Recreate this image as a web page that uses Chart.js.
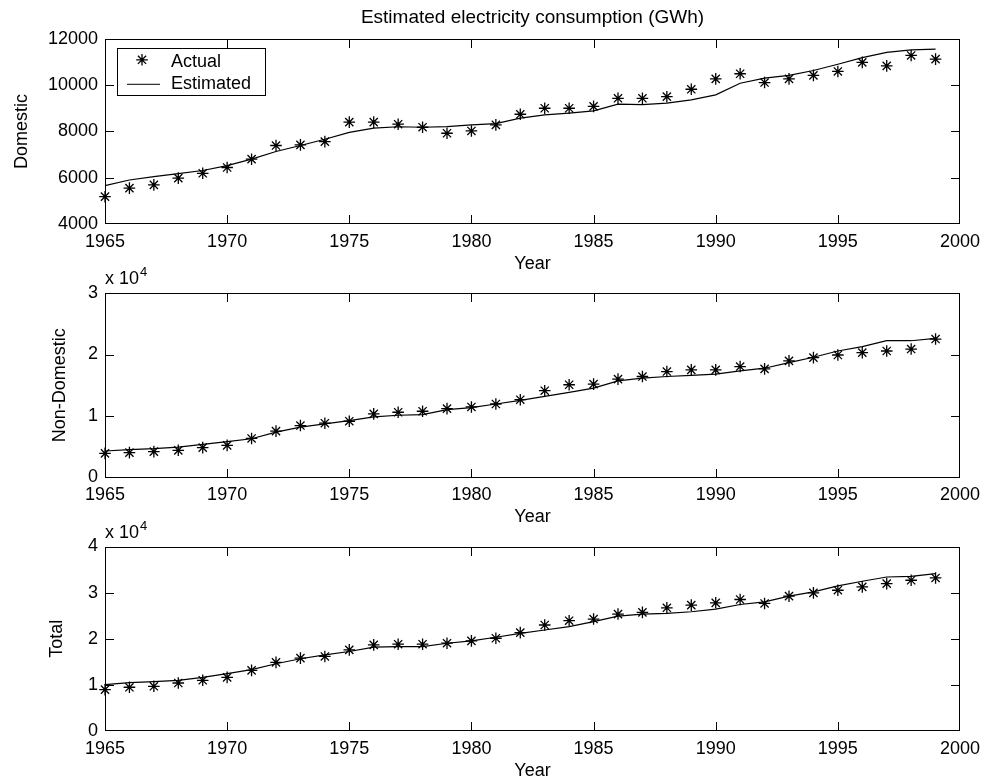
<!DOCTYPE html>
<html>
<head>
<meta charset="utf-8">
<script src="https://cdn.jsdelivr.net/npm/chart.js@4.4.1/dist/chart.umd.min.js"></script>
<style>
html,body{margin:0;padding:0;background:#fff;}
#wrap{position:relative;width:984px;height:779px;overflow:hidden;}
canvas{position:absolute;left:0;top:0;}
</style>
</head>
<body>
<div id="wrap">
<canvas id="c1" width="984" height="779"></canvas>
<canvas id="c2" width="984" height="779"></canvas>
<canvas id="c3" width="984" height="779"></canvas>
</div>
<script>
// ---------------- data ----------------
const years = [1965,1966,1967,1968,1969,1970,1971,1972,1973,1974,1975,1976,1977,1978,1979,1980,1981,1982,1983,1984,1985,1986,1987,1988,1989,1990,1991,1992,1993,1994,1995,1996,1997,1998,1999];

const domesticActual = [5180,5550,5690,5980,6190,6440,6800,7390,7420,7560,8400,8400,8310,8180,7920,8020,8280,8740,9000,9000,9080,9430,9430,9500,9820,10270,10490,10110,10270,10420,10590,10980,10830,11280,11120];
const domesticEstimated = [5660,5900,6050,6180,6310,6520,6800,7130,7390,7660,7960,8140,8200,8180,8210,8280,8340,8570,8710,8790,8890,9180,9160,9220,9360,9580,10080,10300,10420,10630,10900,11190,11410,11520,11550];

const nonDomesticActual = [3930,4040,4200,4420,4850,5220,6350,7540,8450,8830,9150,10340,10610,10770,11200,11470,11950,12650,14110,15080,15190,15990,16420,17230,17500,17500,18040,17660,18960,19490,19920,20300,20570,20890,22510];
const nonDomesticEstimated = [4310,4520,4690,4950,5390,5820,6300,7380,8190,8720,9260,9850,10120,10230,11040,11360,11950,12550,13190,13840,14540,15720,16150,16420,16590,16800,17340,17770,18690,19550,20570,21270,22240,22240,22620];

const totalActual = [8980,9480,9690,10410,10990,11630,13140,14870,15800,16160,17590,18670,18820,18820,19030,19530,20110,21330,22980,23910,24270,25350,25710,26710,27290,27790,28510,27650,29230,29950,30520,31240,31960,32680,33180];
const totalEstimated = [10050,10480,10700,10990,11630,12420,13290,14580,15660,16520,17240,18170,18310,18310,19030,19530,20320,21180,21900,22620,23700,24920,25350,25490,25850,26430,27430,28010,29230,30160,31450,32460,33390,33540,34110];

const xTickRange = [1965, 2000, 5];          // min, max, step
const domesticTicks = [4000, 12000, 2000];
const nonDomesticTicks = [0, 30000, 10000];
const totalTicks = [0, 40000, 10000];

const titleText = 'Estimated electricity consumption (GWh)';
const seriesNames = ['Actual', 'Estimated'];
const xLabel = 'Year';
// --------------------------------------

const FONT = "'Liberation Sans', Arial, Helvetica, sans-serif";
const TICK = 9;
Chart.defaults.color = '#000';
Chart.defaults.font.family = FONT;

function toXY(xs, ys){ return xs.map((x,i)=>({x:x, y:ys[i]})); }

function drawStar(ctx, cx, cy, r){
  ctx.beginPath();
  ctx.moveTo(cx, cy-r); ctx.lineTo(cx, cy+r);
  ctx.moveTo(cx-r, cy); ctx.lineTo(cx+r, cy);
  const d = Math.cos(Math.PI/4)*r;
  ctx.moveTo(cx-d, cy-d); ctx.lineTo(cx+d, cy+d);
  ctx.moveTo(cx-d, cy+d); ctx.lineTo(cx+d, cy-d);
  ctx.stroke();
}

const matlabFrame = {
  id: 'matlabFrame',
  afterDraw(chart, args, opts){
    const ctx = chart.ctx, a = chart.chartArea, xs = chart.scales.x, ys = chart.scales.y;
    const L = Math.round(a.left), R = Math.round(a.right) - 1;
    const T = Math.round(a.top), B = Math.round(a.bottom) - 1;
    ctx.save();
    ctx.setLineDash([]);
    ctx.globalAlpha = 1;
    ctx.fillStyle = '#000';
    // inward tick marks on all four sides
    xs.ticks.forEach(t=>{
      const px = Math.min(R, Math.round(xs.getPixelForValue(t.value)));
      ctx.fillRect(px, B - TICK + 1, 1, TICK);
      ctx.fillRect(px, T, 1, TICK);
    });
    ys.ticks.forEach(t=>{
      const py = Math.min(B, Math.round(ys.getPixelForValue(t.value)));
      ctx.fillRect(L, py, TICK, 1);
      ctx.fillRect(R - TICK + 1, py, TICK, 1);
    });
    // box
    ctx.fillRect(L, T, R - L + 1, 1);
    ctx.fillRect(L, B, R - L + 1, 1);
    ctx.fillRect(L, T, 1, B - T + 1);
    ctx.fillRect(R, T, 1, B - T + 1);

    if (opts.exponent){
      ctx.font = '18px ' + FONT;
      ctx.textAlign = 'left';
      ctx.textBaseline = 'alphabetic';
      const base = a.top - 9;
      const txt = 'x 10';
      ctx.fillText(txt, a.left, base);
      const w = ctx.measureText(txt).width;
      ctx.font = '13px ' + FONT;
      ctx.fillText(opts.exponent, a.left + w + 1, base - 8);
    }
    if (opts.legend){
      const bx = Math.round(a.left + 12), by = Math.round(a.top + 9), bw = 148, bh = 47;
      ctx.fillStyle = '#fff';
      ctx.fillRect(bx, by, bw, bh);
      ctx.fillStyle = '#000';
      ctx.fillRect(bx, by, bw + 1, 1);
      ctx.fillRect(bx, by + bh, bw + 1, 1);
      ctx.fillRect(bx, by, 1, bh + 1);
      ctx.fillRect(bx + bw, by, 1, bh + 1);
      ctx.strokeStyle = '#000';
      ctx.lineWidth = 1.3;
      drawStar(ctx, a.left + 37, a.top + 21, 5.8);
      ctx.fillRect(a.left + 22, a.top + 45, 33, 1);
      ctx.font = '18px ' + FONT;
      ctx.textAlign = 'left';
      ctx.textBaseline = 'alphabetic';
      ctx.fillText(seriesNames[0], a.left + 66, a.top + 28.5);
      ctx.fillText(seriesNames[1], a.left + 66, a.top + 50.5);
    }
    ctx.restore();
  }
};

function makeChart(id, p){
  return new Chart(document.getElementById(id), {
    type: 'line',
    data: {
      datasets: [
        { label: seriesNames[0], data: toXY(years, p.actual), showLine: false,
          pointStyle: 'star', pointRadius: 5.8, pointHoverRadius: 5.8,
          pointBorderColor: '#000', pointBackgroundColor: '#000', pointBorderWidth: 1.3,
          borderColor: '#000', backgroundColor: '#000', clip: false },
        { label: seriesNames[1], data: toXY(years, p.est), borderColor: '#000',
          borderWidth: 1.2, pointRadius: 0, pointHoverRadius: 0, tension: 0, fill: false, clip: false }
      ]
    },
    options: {
      responsive: false, animation: false, events: [],
      layout: { padding: { top: p.padTop, bottom: p.padBottom, left: 0, right: 24 } },
      plugins: {
        legend: { display: false },
        tooltip: { enabled: false },
        title: p.title ? { display: true, text: p.title, fullSize: false, color: '#000',
                 font: { size: 19, family: FONT, weight: 'normal', lineHeight: 1.2 },
                 padding: { top: 6, bottom: 10 } } : { display: false },
        matlabFrame: { exponent: p.exponent, legend: p.legend }
      },
      scales: {
        x: {
          type: 'linear', min: xTickRange[0], max: xTickRange[1],
          grid: { display: false, drawTicks: false }, border: { display: false },
          ticks: { stepSize: xTickRange[2], padding: 7, autoSkip: false, maxRotation: 0,
                   color: '#000', font: { size: 18, family: FONT },
                   callback: v => String(v) },
          title: { display: true, text: xLabel, color: '#000',
                   font: { size: 18, family: FONT, lineHeight: 1 }, padding: { top: 0, bottom: -1 } },
          afterFit: s => { s.height = 48; s.paddingLeft = 0; s.paddingRight = 0; }
        },
        y: {
          type: 'linear', min: p.ticks[0], max: p.ticks[1],
          grid: { display: false, drawTicks: false }, border: { display: false },
          ticks: { stepSize: p.ticks[2], padding: 7, color: '#000', font: { size: 18, family: FONT },
                   callback: v => String(v / p.scaleDiv) },
          title: { display: true, text: p.ylabel, color: '#000',
                   font: { size: 18, family: FONT, lineHeight: 1 }, padding: { top: p.yTitlePad, bottom: 0 } },
          afterFit: s => { s.width = 105; }
        }
      }
    },
    plugins: [matlabFrame]
  });
}

makeChart('c1', { actual: domesticActual, est: domesticEstimated, ticks: domesticTicks, scaleDiv: 1,
  ylabel: 'Domestic', yTitlePad: 13, padTop: 0, padBottom: 507, title: titleText, legend: true });
makeChart('c2', { actual: nonDomesticActual, est: nonDomesticEstimated, ticks: nonDomesticTicks, scaleDiv: 10000,
  ylabel: 'Non-Domestic', yTitlePad: 51, padTop: 293, padBottom: 253.5, exponent: '4' });
makeChart('c3', { actual: totalActual, est: totalEstimated, ticks: totalTicks, scaleDiv: 10000,
  ylabel: 'Total', yTitlePad: 48.5, padTop: 546.5, padBottom: 0, exponent: '4' });
</script>
</body>
</html>
